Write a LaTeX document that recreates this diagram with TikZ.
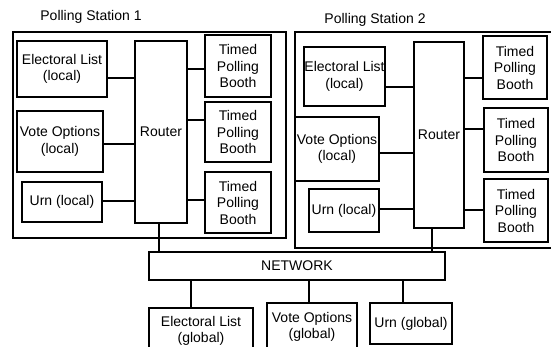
\documentclass[tikz,border=0pt]{standalone}
\usepackage{fontspec}
\setmainfont{Liberation Sans}
\begin{document}
\begin{tikzpicture}[x=1pt,y=-1pt,
  box/.style={draw, line width=1.8pt, rectangle, inner sep=0pt, align=center,
    font=\fontsize{14}{16.5}\selectfont},
  lbl/.style={inner sep=0pt, font=\fontsize{14}{16.5}\selectfont},
  link/.style={line width=1.8pt}]
\useasboundingbox (0,0) rectangle (551,347);
\clip (0,0) rectangle (551,347);
% Station labels
\node[lbl] (t1) at (91,17) {Polling Station 1};
\node[lbl] (t2) at (375,20) {Polling Station 2};
% Station outlines
\node[box, minimum width=273pt, minimum height=206pt] (S1) at (149.5,135) {};
\node[box, minimum width=305pt, minimum height=216pt] (S2) at (447.5,140) {};
% Station 1
\node[box, minimum width=90pt, minimum height=56pt] (EL1) at (62,69) {Electoral List\\(local)};
\node[box, minimum width=86pt, minimum height=61pt] (VO1) at (60,141.5) {Vote Options\\(local)};
\node[box, minimum width=80pt, minimum height=40pt] (U1) at (62,202) {Urn (local)};
\node[box, minimum width=52pt, minimum height=182pt] (R1) at (161,132) {Router};
\node[box, minimum width=66pt, minimum height=62pt] (B1a) at (238,66) {Timed\\Polling\\Booth};
\node[box, minimum width=66pt, minimum height=60pt] (B1b) at (238,132) {Timed\\Polling\\Booth};
\node[box, minimum width=66pt, minimum height=61pt] (B1c) at (238,202.5) {Timed\\Polling\\Booth};
% Station 2
\node[box, minimum width=81pt, minimum height=59pt] (EL2) at (344.5,76.5) {Electoral List\\(local)};
\node[box, minimum width=84pt, minimum height=64pt] (VO2) at (337,149) {Vote Options\\(local)};
\node[box, minimum width=70pt, minimum height=43pt] (U2) at (344,210.5) {Urn (local)};
\node[box, minimum width=50pt, minimum height=186pt] (R2) at (439,135) {Router};
\node[box, minimum width=64pt, minimum height=63pt] (B2a) at (515,67.5) {Timed\\Polling\\Booth};
\node[box, minimum width=64pt, minimum height=64pt] (B2b) at (516,140) {Timed\\Polling\\Booth};
\node[box, minimum width=64pt, minimum height=63pt] (B2c) at (516,210.5) {Timed\\Polling\\Booth};
% Network and global
\node[box, minimum width=296pt, minimum height=28pt] (N) at (297,266) {NETWORK};
\node[box, minimum width=104pt, minimum height=46pt] (ELg) at (201,331) {Electoral List\\(global)};
\node[box, minimum width=90pt, minimum height=48pt] (VOg) at (312,327) {Vote Options\\(global)};
\node[box, minimum width=82pt, minimum height=41pt] (Ug) at (411,323.5) {Urn (global)};
% Station 1 links
\draw[link] ([yshift=-9pt]EL1.east) -- ([yshift=-9pt]EL1.east -| R1.west);
\draw[link] ([yshift=-2.5pt]VO1.east) -- ([yshift=-2.5pt]VO1.east -| R1.west);
\draw[link] ([yshift=1pt]U1.east) -- ([yshift=1pt]U1.east -| R1.west);
\draw[link] ([yshift=-3pt]B1a.west) -- ([yshift=-3pt]B1a.west -| R1.east);
\draw[link] ([yshift=12pt]B1b.west) -- ([yshift=12pt]B1b.west -| R1.east);
\draw[link] ([yshift=2.5pt]B1c.west) -- ([yshift=2.5pt]B1c.west -| R1.east);
% Station 2 links
\draw[link] ([yshift=-10.5pt]EL2.east) -- ([yshift=-10.5pt]EL2.east -| R2.west);
\draw[link] ([yshift=-4pt]VO2.east) -- ([yshift=-4pt]VO2.east -| R2.west);
\draw[link] ([yshift=1.5pt]U2.east) -- ([yshift=1.5pt]U2.east -| R2.west);
\draw[link] ([yshift=-10.5pt]B2a.west) -- ([yshift=-10.5pt]B2a.west -| R2.east);
\draw[link] ([yshift=11pt]B2b.west) -- ([yshift=11pt]B2b.west -| R2.east);
\draw[link] ([yshift=0.5pt]B2c.west) -- ([yshift=0.5pt]B2c.west -| R2.east);
% Routers to network
\draw[link] ([xshift=-2pt]R1.south) -- ([xshift=-2pt]R1.south |- N.north);
\draw[link] ([xshift=-7pt]R2.south) -- ([xshift=-7pt]R2.south |- N.north);
% Network to global
\draw[link] ([xshift=-10pt]ELg.north) -- ([xshift=-10pt]ELg.north |- N.south);
\draw[link] ([xshift=-3pt]VOg.north) -- ([xshift=-3pt]VOg.north |- N.south);
\draw[link] ([xshift=-8pt]Ug.north) -- ([xshift=-8pt]Ug.north |- N.south);
\end{tikzpicture}
\end{document}
